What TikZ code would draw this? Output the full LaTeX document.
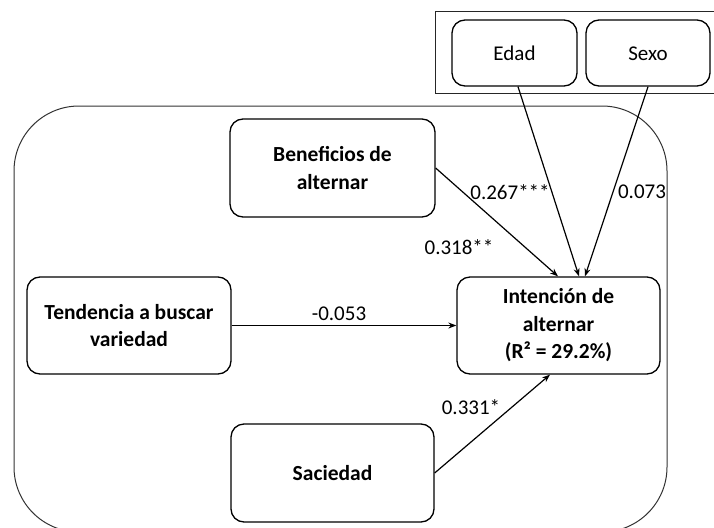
\documentclass[tikz,border=0pt]{standalone}
\usepackage{fontspec}
\setmainfont{Carlito}
\usetikzlibrary{arrows.meta,calc}
\begin{document}
\begin{tikzpicture}[x=1pt,y=-1pt,
  box/.style={draw,line width=1.3pt,rounded corners=13pt,align=center,inner sep=0pt},
  bbox/.style={box,font=\fontsize{21.5}{27.5}\selectfont\bfseries},
  rbox/.style={box,font=\fontsize{21}{26}\selectfont,text height=14pt,text depth=0pt},
  lbl/.style={font=\fontsize{21}{26}\selectfont,inner sep=0pt},
  arr/.style={line width=1.2pt,-{Stealth[length=8pt,width=6pt]}}]
\useasboundingbox (0,0) rectangle (714,527);
\begin{scope}
\clip (0,0) rectangle (714,527);
\draw[line width=1pt,draw=black!85] (435,12) rectangle (720,93);
\draw[line width=1pt,draw=black!80,rounded corners=65pt] (14,106) rectangle (667,532);
\end{scope}
\node[rbox,minimum width=125pt,minimum height=66pt] (edad) at (514.5,53) {Edad};
\node[rbox,minimum width=124pt,minimum height=66pt] (sexo) at (648,53) {Sexo};
\node[bbox,minimum width=205pt,minimum height=98pt] (ben) at (332.5,168) {Beneficios de\\alternar};
\node[bbox,minimum width=204pt,minimum height=97pt] (ten) at (129,325.5) {Tendencia a buscar\\variedad};
\node[bbox,minimum width=203pt,minimum height=97pt] (int) at (558.5,325.5) {Intención de\\alternar\\(R² = 29.2\%)};
\node[bbox,minimum width=203pt,minimum height=98pt] (sac) at (332.5,473) {Saciedad};
\draw[arr] (ben.east) -- ([xshift=-0.5pt]int.north);
\draw[arr] ([xshift=3.5pt]edad.south) -- ([xshift=20.5pt]int.north);
\draw[arr] (sexo.south) -- ([xshift=26.5pt]int.north);
\draw[arr] (ten.east) -- (int.west);
\draw[arr] (sac.east) -- ([xshift=-8.5pt]int.south);
\node[lbl] (l1) at (510,192) {0.267***};
\node[lbl] (l2) at (642,192) {0.073};
\node[lbl] (l3) at (459,247) {0.318**};
\node[lbl] (l4) at (339,314) {-0.053};
\node[lbl] (l5) at (471,407) {0.331*};
\end{tikzpicture}
\end{document}
